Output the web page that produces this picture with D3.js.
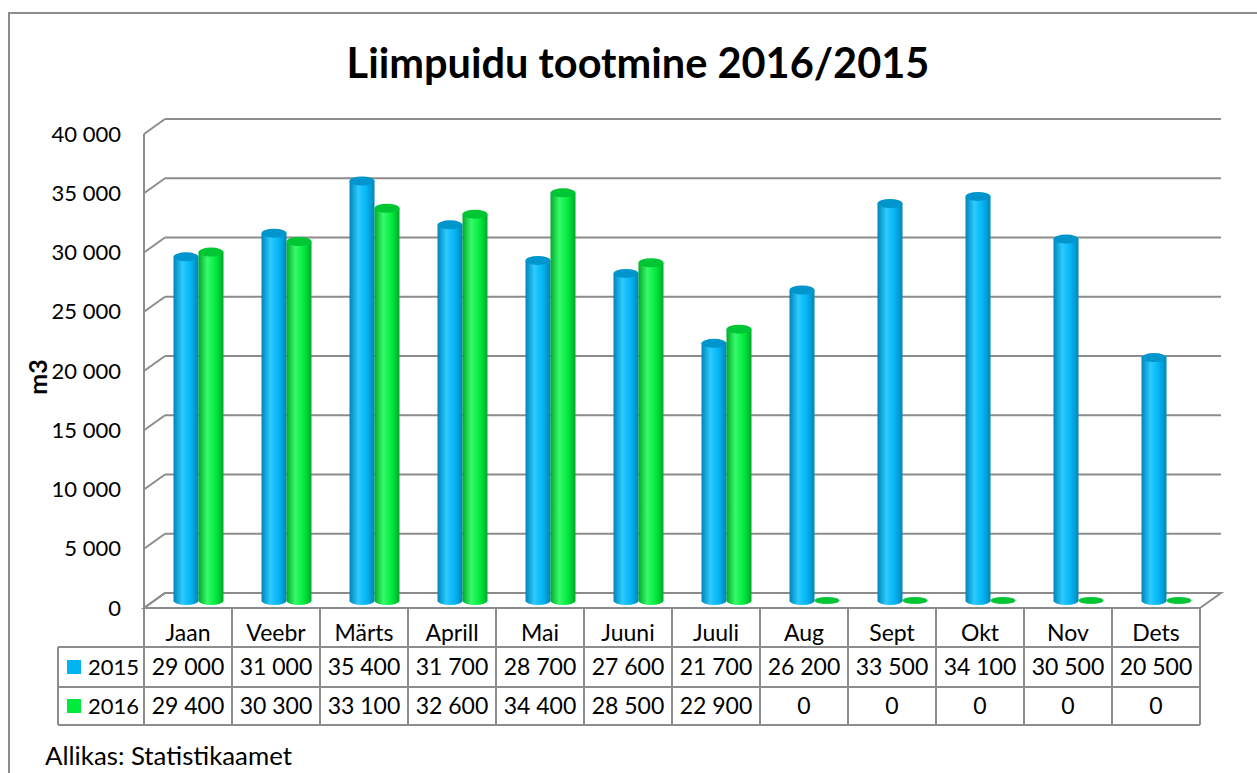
<!DOCTYPE html>
<html>
<head>
<meta charset="utf-8">
<script src="https://cdn.jsdelivr.net/npm/d3@7"></script>
<style>
  body { margin: 0; background: #fff; }
  svg { display: block; font-family: Lato, "Open Sans", sans-serif; }
</style>
</head>
<body>
<div id="chart"></div>
<script>
// data
var months = ["Jaan", "Veebr", "Märts", "Aprill", "Mai", "Juuni", "Juuli", "Aug", "Sept", "Okt", "Nov", "Dets"];
var seriesNames = ["2015", "2016"];
var values2015 = [29000, 31000, 35400, 31700, 28700, 27600, 21700, 26200, 33500, 34100, 30500, 20500];
var values2016 = [29400, 30300, 33100, 32600, 34400, 28500, 22900, 0, 0, 0, 0, 0];
var yTicks = [0, 5000, 10000, 15000, 20000, 25000, 30000, 35000, 40000];
var title = "Liimpuidu tootmine 2016/2015";
var yTitle = "m3";
var source = "Allikas: Statistikaamet";

var W = 1257, H = 773;
var depthX = 21, depthY = 15; // back wall offset from front
var grid = "#8c8c8c";

var svg = d3.select("#chart").append("svg").attr("width", W).attr("height", H);
var defs = svg.append("defs");

var looks = [
	{main: "#00b4f2", light: "#2ccaff", dark: "#0084b6", top: "#0095cc"},
	{main: "#00ea3c", light: "#38fa6a", dark: "#00aa2a", top: "#00c634"}
];
looks.forEach(function(c, i){
	var g = defs.append("linearGradient").attr("id", "cyl" + i)
		.attr("x1", 0).attr("x2", 1).attr("y1", 0).attr("y2", 0);
	g.append("stop").attr("offset", "0%").attr("stop-color", c.dark);
	g.append("stop").attr("offset", "35%").attr("stop-color", c.light);
	g.append("stop").attr("offset", "70%").attr("stop-color", c.main);
	g.append("stop").attr("offset", "100%").attr("stop-color", c.dark);
});

// outer frame (runs past the right and bottom edges)
svg.append("rect").attr("x", 9).attr("y", 13).attr("width", 1300).attr("height", 800)
	.attr("fill", "none").attr("stroke", grid).attr("stroke-width", 2);

svg.append("text").attr("x", 638).attr("y", 78).attr("text-anchor", "middle")
	.style("font-size", "41.5px").style("font-weight", "bold").attr("fill", "#000").text(title);

// scales: front plane
var x = d3.scaleBand().domain(months).range([144, 1200]);
var y = d3.scaleLinear().domain([0, 40000]).range([608, 134]);

// back wall gridlines
var gridG = svg.append("g");
gridG.selectAll("line.back").data(yTicks).enter().append("line")
	.attr("x1", 144 + depthX).attr("x2", 1200 + depthX)
	.attr("y1", function(d){ return y(d) - depthY; })
	.attr("y2", function(d){ return y(d) - depthY; })
	.attr("stroke", grid).attr("stroke-width", 2);
// side wall diagonals
gridG.selectAll("line.side").data(yTicks).enter().append("line")
	.attr("x1", 144).attr("x2", 144 + depthX)
	.attr("y1", function(d){ return y(d); })
	.attr("y2", function(d){ return y(d) - depthY; })
	.attr("stroke", grid).attr("stroke-width", 2);
gridG.append("line").attr("x1", 144).attr("x2", 144).attr("y1", y(40000)).attr("y2", y(0))
	.attr("stroke", grid).attr("stroke-width", 2);
// floor
gridG.append("path")
	.attr("d", "M" + 144 + "," + y(0) + "L" + (144 + depthX) + "," + (y(0) - depthY) +
		"L" + (1200 + depthX) + "," + (y(0) - depthY) + "L" + 1200 + "," + y(0) + "Z")
	.attr("fill", "none").attr("stroke", grid).attr("stroke-width", 2);

var fmt = function(d){ return d === 0 ? "0" : d3.format(",")(d).replace(/,/g, " "); };

// y tick labels
svg.append("g").selectAll("text").data(yTicks).enter().append("text")
	.attr("x", 121).attr("y", function(d){ return y(d); }).attr("dy", "0.35em")
	.attr("text-anchor", "end").style("font-size", "22px").attr("fill", "#000")
	.text(fmt);

svg.append("text").attr("transform", "translate(47,377) rotate(-90)")
	.attr("text-anchor", "middle").style("font-size", "25px").style("font-weight", "bold")
	.text(yTitle);

// cylinders
var barW = 25, ry = 4.5;
var series = [values2015, values2016];
var bars = svg.append("g");
series.forEach(function(vals, s){
	var c = looks[s];
	var g = bars.append("g");
	vals.forEach(function(v, i){
		var cx = x(months[i]) + x.bandwidth() / 2 + depthX / 2 + (s === 0 ? -barW / 2 : barW / 2);
		var yb = y(0) - depthY / 2;
		var yt = y(v) - depthY / 2;
		var rx = barW / 2;
		if (v > 0) {
			g.append("path")
				.attr("d", "M" + (cx - rx) + "," + yt + "L" + (cx - rx) + "," + yb +
					"A" + rx + "," + ry + " 0 0 0 " + (cx + rx) + "," + yb +
					"L" + (cx + rx) + "," + yt + "Z")
				.attr("fill", "url(#cyl" + s + ")");
			g.append("ellipse").attr("cx", cx).attr("cy", yt).attr("rx", rx).attr("ry", ry)
				.attr("fill", c.top);
		} else {
			g.append("ellipse").attr("cx", cx).attr("cy", yb).attr("rx", rx).attr("ry", ry - 1)
				.attr("fill", c.top);
		}
	});
});

// data table
var rowTop = [608, 647, 687, 725];
var table = svg.append("g");
var tl = function(x1, y1, x2, y2){
	table.append("line").attr("x1", x1).attr("y1", y1).attr("x2", x2).attr("y2", y2)
		.attr("stroke", grid).attr("stroke-width", 2);
};
tl(144, rowTop[0], 1200, rowTop[0]);
tl(58, rowTop[1], 1200, rowTop[1]);
tl(58, rowTop[2], 1200, rowTop[2]);
tl(58, rowTop[3], 1200, rowTop[3]);
tl(58, rowTop[1], 58, rowTop[3]);
months.forEach(function(m){ tl(x(m), rowTop[0], x(m), rowTop[3]); });
tl(1200, rowTop[0], 1200, rowTop[3]);

table.selectAll("text.cat").data(months).enter().append("text")
	.attr("x", function(d){ return x(d) + x.bandwidth() / 2; })
	.attr("y", (rowTop[0] + rowTop[1]) / 2 + 5).attr("dy", "0.35em")
	.attr("text-anchor", "middle").style("font-size", "23px").text(function(d){ return d; });

series.forEach(function(vals, s){
	var cy = (rowTop[s + 1] + rowTop[s + 2]) / 2;
	table.append("rect").attr("x", 67).attr("y", cy - 7).attr("width", 14).attr("height", 14)
		.attr("fill", looks[s].main);
	table.append("text").attr("x", 88).attr("y", cy).attr("dy", "0.35em")
		.style("font-size", "22px").text(seriesNames[s]);
	table.selectAll("text.v" + s).data(vals).enter().append("text")
		.attr("x", function(d, i){ return x(months[i]) + x.bandwidth() / 2; })
		.attr("y", cy).attr("dy", "0.35em").attr("text-anchor", "middle")
		.style("font-size", "23px")
		.text(fmt);
});

svg.append("text").attr("x", 45).attr("y", 765).style("font-size", "25.8px").text(source);
</script>
</body>
</html>
